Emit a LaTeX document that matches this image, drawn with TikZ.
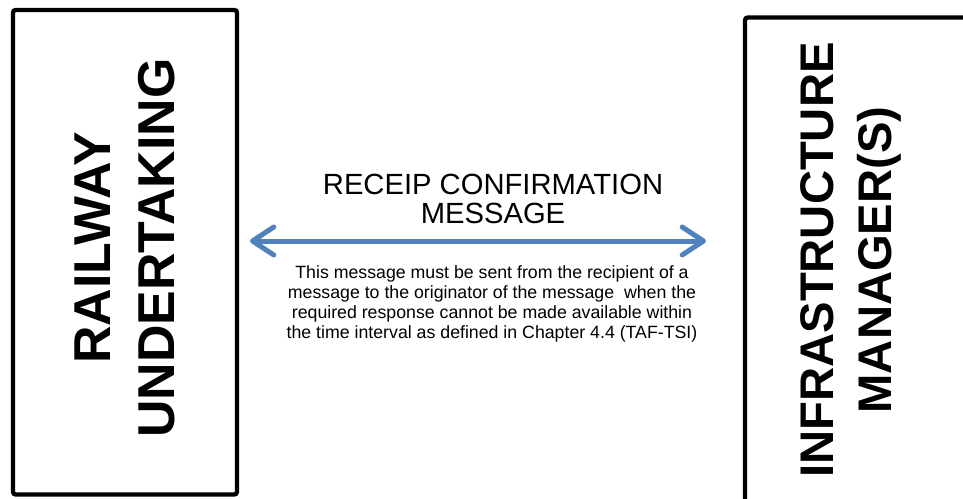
\documentclass[tikz,border=0pt]{standalone}
\usepackage{fontspec}
\setmainfont{Liberation Sans}
\usetikzlibrary{arrows.meta}
\definecolor{arrowblue}{RGB}{79,129,189}
\begin{document}
\begin{tikzpicture}[x=0.75pt,y=-0.75pt,
  box/.style={draw=black, line width=3.2pt, rounded corners=2pt, inner sep=0pt},
  vtext/.style={rotate=90, align=center, inner sep=0pt},
  htext/.style={align=center, inner sep=0pt}]
\useasboundingbox (0,0) rectangle (963,499);
\clip (0,0) rectangle (963,499);
\node[box, minimum width=168pt, minimum height=363.4pt] (ru) at (125,252.25) {};
\node[box, minimum width=191.25pt, minimum height=391.9pt] (im) at (872.5,278.75) {};
\node[vtext, font=\fontsize{38.9}{48}\selectfont\bfseries] (rut) at (125,248) {RAILWAY\\UNDERTAKING};
\node[vtext, font=\fontsize{35.4}{43.5}\selectfont\bfseries] (imt) at (851,260) {INFRASTRUCTURE\\MANAGER(S)};
\node[htext, font=\fontsize{21.9}{22}\selectfont] (title) at (493,199) {RECEIP CONFIRMATION\\MESSAGE};
\node[htext, font=\fontsize{13.3}{15}\selectfont] (desc) at (492,304) {This message must be sent from the recipient of a\\message to the originator of the message\ \ when the\\required response cannot be made available within\\the time interval as defined in Chapter 4.4 (TAF-TSI)};
\coordinate (aL) at (250,241);
\coordinate (aR) at (706,241);
\draw[arrowblue, line width=3.75pt, line cap=round, {Straight Barb[length=16pt, width=21pt, round]}-{Straight Barb[length=16pt, width=21pt, round]}] (aL) -- (aR);
\end{tikzpicture}
\end{document}
